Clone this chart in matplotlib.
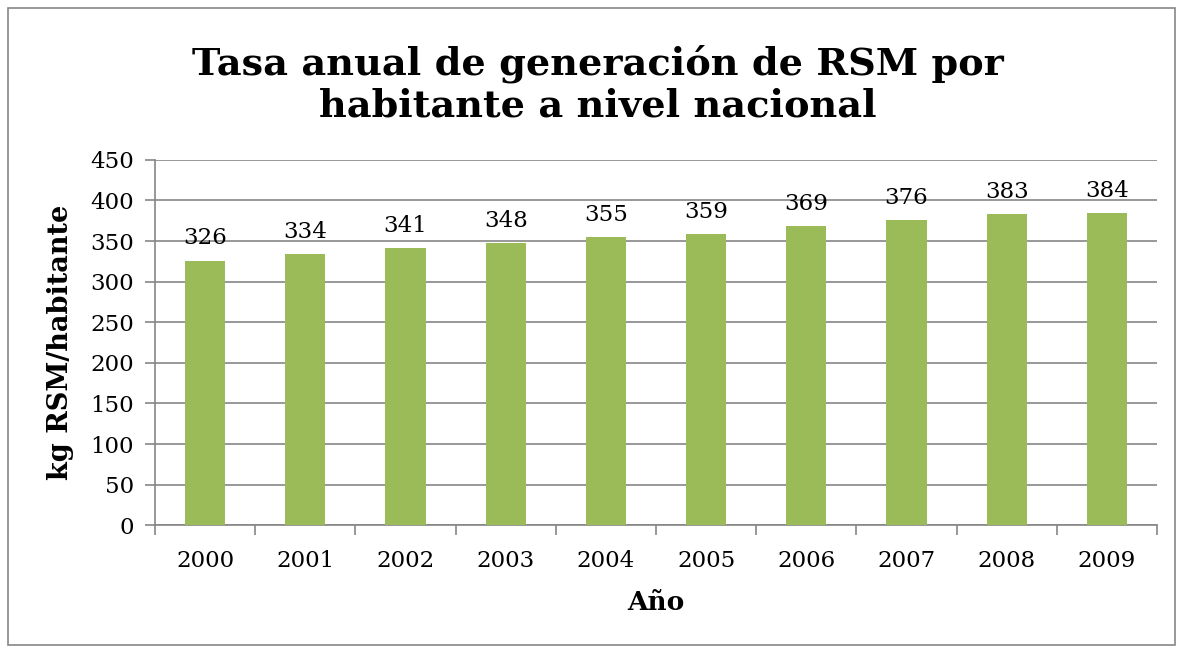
import matplotlib.pyplot as plt
import numpy as np

years = ['2000', '2001', '2002', '2003', '2004', '2005', '2006', '2007', '2008', '2009']
kg_per_hab = [326, 334, 341, 348, 355, 359, 369, 376, 383, 384]

plt.rcParams['font.family'] = ['DejaVu Serif']

fig = plt.figure(figsize=(11.83, 6.5), dpi=100)
ax = fig.add_axes([0.131, 0.192, 0.847, 0.562])

x = np.arange(len(years))
bars = ax.bar(x, kg_per_hab, width=0.4, color='#9BBB59', zorder=3)
for xi, v in zip(x, kg_per_hab):
    ax.annotate(str(v), (xi, v), xytext=(0, 8), textcoords='offset points',
                ha='center', va='bottom', fontsize=16.5)

ax.set_xlim(-0.5, len(years) - 0.5)
ax.set_ylim(0, 450)
ax.set_yticks(np.arange(0, 451, 50))
ax.yaxis.grid(True, color='#868686', linewidth=1.2, zorder=0)

ax.set_xticks(x)
ax.set_xticklabels(years)
ax.set_xticks(np.arange(-0.5, len(years)), minor=True)
ax.tick_params(axis='x', which='major', length=0, pad=18, labelsize=16.5)
ax.tick_params(axis='x', which='minor', length=7, color='#868686', width=1.2)
ax.tick_params(axis='y', length=7, color='#868686', width=1.2, labelsize=16.5, pad=8)

for s in ['top', 'right']:
    ax.spines[s].set_visible(False)
for s in ['left', 'bottom']:
    ax.spines[s].set_color('#868686')
    ax.spines[s].set_linewidth(1.2)

ax.set_xlabel('Año', fontsize=19, fontweight='bold', labelpad=13)
ax.set_ylabel('kg RSM/habitante', fontsize=19.5, fontweight='bold', labelpad=12)

fig.text(0.505, 0.87, 'Tasa anual de generación de RSM por\nhabitante a nivel nacional',
         ha='center', va='center', fontsize=27.5, fontweight='bold', linespacing=1.15)

fig.patches.append(plt.Rectangle((0.007, 0.008), 0.986, 0.98, transform=fig.transFigure,
                                 fill=False, edgecolor='#868686', linewidth=1.2))

fig.savefig('out.png', dpi=100)
